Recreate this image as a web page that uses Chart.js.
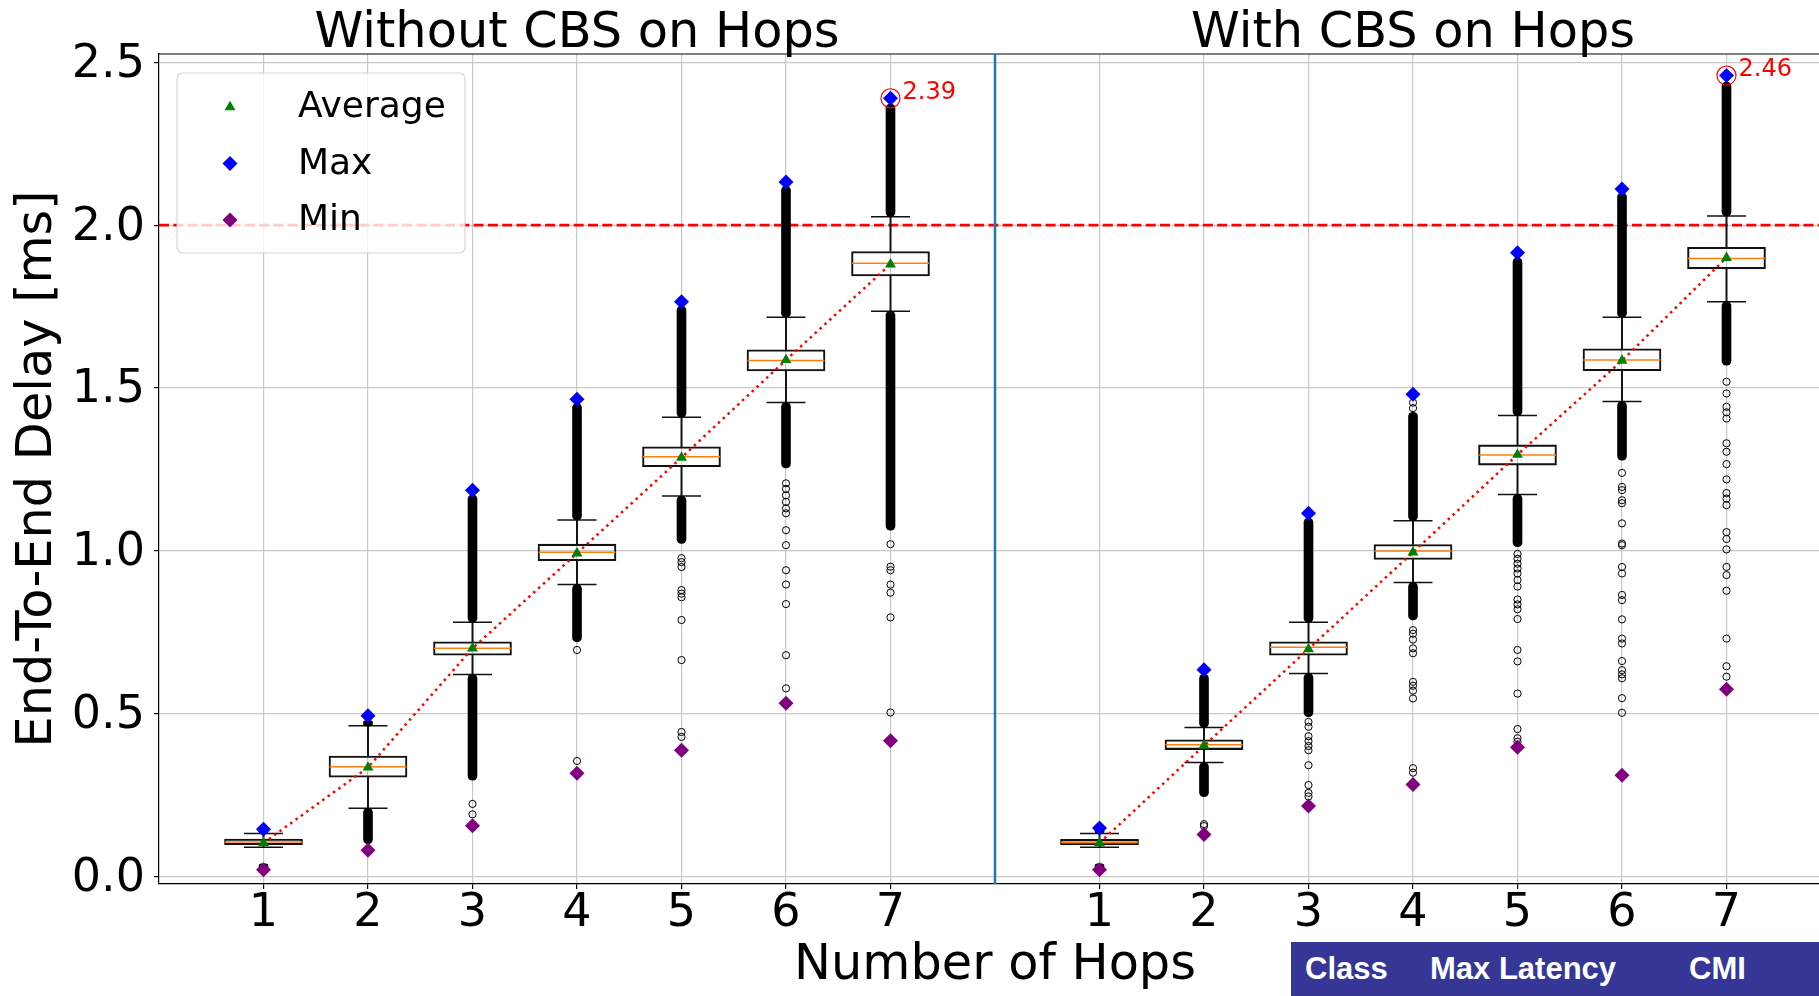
<!DOCTYPE html>
<html>
<head>
<meta charset="utf-8">
<title>End-To-End Delay per Number of Hops</title>
<script src="https://cdn.jsdelivr.net/npm/chart.js@4.4.1/dist/chart.umd.min.js"></script>
<style>
  html, body { margin: 0; padding: 0; width: 1819px; height: 996px; overflow: hidden; background: #fff; }
  #wrap { position: relative; width: 1819px; height: 996px; overflow: hidden; }
  #delayChart { position: absolute; left: 0; top: 0; }
  #classBar {
    position: absolute; left: 1291px; top: 942px; width: 528px; height: 54px;
    background: #363697; color: #fff;
    font-family: "Liberation Sans", Arial, sans-serif; font-weight: bold; font-size: 31px;
  }
  #classBar span { position: absolute; top: 11px; line-height: 31px; white-space: nowrap; }
</style>
</head>
<body>
<div id="wrap">
  <canvas id="delayChart" width="1831" height="996"></canvas>
  <div id="classBar">
    <span style="left:14px">Class</span>
    <span style="left:139px">Max Latency</span>
    <span style="left:398px">CMI</span>
  </div>
</div>
<script>
// ---------------- data ----------------
const hops = [1, 2, 3, 4, 5, 6, 7];
const hopLabels = ['1', '2', '3', '4', '5', '6', '7'];
const yTickValues = [0.0, 0.5, 1.0, 1.5, 2.0, 2.5];
const deadlineMs = 2.0;
const panelTitles = ['Without CBS on Hops', 'With CBS on Hops'];

// Without CBS on hops (delay in ms)
const noCbsQ1          = [0.097, 0.304, 0.679, 0.969, 1.258, 1.552, 1.844];
const noCbsMedian      = [0.105, 0.336, 0.700, 0.995, 1.289, 1.584, 1.883];
const noCbsQ3          = [0.114, 0.369, 0.720, 1.020, 1.319, 1.617, 1.919];
const noCbsWhiskerLow  = [0.089, 0.209, 0.620, 0.896, 1.168, 1.455, 1.736];
const noCbsWhiskerHigh = [0.131, 0.462, 0.780, 1.094, 1.410, 1.717, 2.026];
const noCbsMean        = [0.102, 0.334, 0.700, 0.992, 1.286, 1.586, 1.880];
const noCbsMax         = [0.144, 0.493, 1.186, 1.465, 1.765, 2.133, 2.39];
const noCbsMin         = [0.020, 0.080, 0.155, 0.316, 0.387, 0.531, 0.416];
// ranges packed so tightly with outliers that they form a solid band
const noCbsDenseHigh = [[0.133, 0.142], [0.462, 0.478], [0.780, 1.172], [1.094, 1.452], [1.410, 1.752], [1.717, 2.120], [2.026, 2.372]];
const noCbsDenseLow  = [[0.022, 0.038], [0.100, 0.209], [0.295, 0.620], [0.720, 0.896], [1.022, 1.168], [1.254, 1.455], [1.063, 1.736]];
// isolated outliers
const noCbsOutliers = [
  [],
  [],
  [0.222, 0.190],
  [0.695, 0.354],
  [0.977, 0.965, 0.950, 0.879, 0.868, 0.857, 0.787, 0.664, 0.443, 0.428],
  [1.207, 1.190, 1.170, 1.150, 1.130, 1.115, 1.063, 1.017, 0.940, 0.896, 0.836, 0.679, 0.577],
  [1.020, 0.951, 0.940, 0.896, 0.871, 0.795, 0.503]
];

// With CBS on hops (delay in ms)
const cbsQ1          = [0.096, 0.389, 0.679, 0.973, 1.263, 1.553, 1.866];
const cbsMedian      = [0.1045, 0.404, 0.703, 0.999, 1.294, 1.586, 1.898];
const cbsQ3          = [0.113, 0.419, 0.720, 1.019, 1.325, 1.620, 1.932];
const cbsWhiskerLow  = [0.089, 0.349, 0.623, 0.902, 1.173, 1.458, 1.765];
const cbsWhiskerHigh = [0.131, 0.457, 0.780, 1.092, 1.415, 1.717, 2.028];
const cbsMean        = [0.102, 0.401, 0.698, 0.995, 1.295, 1.584, 1.900];
const cbsMax         = [0.148, 0.634, 1.115, 1.481, 1.915, 2.111, 2.46];
const cbsMin         = [0.020, 0.128, 0.216, 0.282, 0.396, 0.310, 0.574];
const cbsDenseHigh = [[0.133, 0.145], [0.457, 0.620], [0.780, 1.100], [1.092, 1.425], [1.415, 1.900], [1.717, 2.100], [2.028, 2.440]];
const cbsDenseLow  = [[0.022, 0.038], [0.244, 0.349], [0.490, 0.623], [0.787, 0.902], [1.012, 1.173], [1.278, 1.458], [1.570, 1.765]];
const cbsOutliers = [
  [],
  [0.160, 0.154],
  [0.474, 0.459, 0.430, 0.415, 0.400, 0.387, 0.341, 0.280, 0.256, 0.245],
  [1.438, 1.455, 0.756, 0.745, 0.727, 0.700, 0.685, 0.597, 0.585, 0.570, 0.546, 0.332, 0.318],
  [0.990, 0.975, 0.960, 0.945, 0.930, 0.910, 0.890, 0.850, 0.835, 0.820, 0.790, 0.695, 0.660, 0.561, 0.452, 0.424, 0.413],
  [1.239, 1.196, 1.186, 1.155, 1.146, 1.084, 1.022, 1.017, 0.950, 0.930, 0.864, 0.848, 0.789, 0.730, 0.715, 0.661, 0.633, 0.620, 0.608, 0.547, 0.502],
  [1.519, 1.483, 1.442, 1.425, 1.406, 1.330, 1.304, 1.266, 1.219, 1.177, 1.160, 1.140, 1.057, 1.036, 1.004, 0.950, 0.925, 0.877, 0.730, 0.645, 0.613]
];

// ---------------- chart construction ----------------
// Both panels share one linear x axis; each panel spans 0 .. hops+1.
const PANEL_SPAN = hops.length + 1;
const FONT = '"DejaVu Sans", sans-serif';
const LABEL_SIZE = 49.4;

const panels = [
  { q1: noCbsQ1, median: noCbsMedian, q3: noCbsQ3, wLo: noCbsWhiskerLow, wHi: noCbsWhiskerHigh,
    mean: noCbsMean, max: noCbsMax, min: noCbsMin, denseHigh: noCbsDenseHigh, denseLow: noCbsDenseLow, outliers: noCbsOutliers },
  { q1: cbsQ1, median: cbsMedian, q3: cbsQ3, wLo: cbsWhiskerLow, wHi: cbsWhiskerHigh,
    mean: cbsMean, max: cbsMax, min: cbsMin, denseHigh: cbsDenseHigh, denseLow: cbsDenseLow, outliers: cbsOutliers }
];

function pointStyleSet(style, radius, fill, stroke, width) {
  return {
    pointStyle: style, pointRadius: radius, pointHoverRadius: radius, pointHitRadius: 0,
    pointBackgroundColor: fill, pointBorderColor: stroke, pointBorderWidth: width,
    pointHoverBackgroundColor: fill, pointHoverBorderColor: stroke, pointHoverBorderWidth: width
  };
}

function panelDatasets(s, p) {
  const at = i => hops[i] + p * PANEL_SPAN;
  const points = arr => arr.map((v, i) => ({ x: at(i), y: v }));
  const spans = (lo, hi) => lo.map((v, i) => ({ x: at(i), y: [v, hi[i]] }));
  const bands = s.denseHigh.concat(s.denseLow).map((r, k) => ({ x: at(k % hops.length), y: [r[0], r[1]] }));
  const loose = [];
  s.outliers.forEach((vals, i) => vals.forEach(v => loose.push({ x: at(i), y: v })));
  const last = hops.length - 1;

  return [
    { type: 'bar', data: spans(s.q1, s.q3), grouped: false, barThickness: 78,
      backgroundColor: 'rgba(0,0,0,0)', borderColor: '#111', borderWidth: 1.4, borderSkipped: false, order: 15 },
    { type: 'bar', data: spans(s.q3, s.wHi), grouped: false, barThickness: 1.3,
      backgroundColor: '#111', borderWidth: 0, order: 14 },
    { type: 'bar', data: spans(s.wLo, s.q1), grouped: false, barThickness: 1.3,
      backgroundColor: '#111', borderWidth: 0, order: 14 },
    { type: 'scatter', data: points(s.wHi).concat(points(s.wLo)), order: 13,
      ...pointStyleSet('line', 19.5, '#111', '#111', 1.5) },
    { type: 'bar', data: bands, grouped: false, barThickness: 9, borderRadius: 4.5,
      backgroundColor: '#000', borderWidth: 0, borderSkipped: false, order: 12 },
    { type: 'scatter', data: loose, order: 11,
      ...pointStyleSet('circle', 3.6, 'rgba(0,0,0,0)', '#000', 1) },
    { type: 'scatter', data: points(s.median), order: 10,
      ...pointStyleSet('line', 38.5, '#ff7f0e', '#ff7f0e', 1.5) },
    { type: 'line', data: points(s.mean), order: 9, borderColor: '#ff0000', borderWidth: 2.5,
      borderDash: [2.5, 4.1], pointRadius: 0, pointHoverRadius: 0, fill: false, tension: 0 },
    { type: 'scatter', label: 'Average', data: points(s.mean), order: 8,
      ...pointStyleSet('triangle', 6.3, '#008000', '#008000', 0) },
    { type: 'scatter', label: 'Max', data: points(s.max), order: 7,
      ...pointStyleSet('rectRot', 7.5, '#0000ff', '#0000ff', 0) },
    { type: 'scatter', label: 'Min', data: points(s.min), order: 7,
      ...pointStyleSet('rectRot', 7.5, '#800080', '#800080', 0) },
    { type: 'scatter', callout: true, data: [{ x: at(last), y: s.max[last] }], order: 6,
      ...pointStyleSet('circle', 9.5, 'rgba(0,0,0,0)', '#ff0000', 1.2) }
  ];
}

const datasets = [
  { type: 'line', data: [{ x: 0, y: deadlineMs }, { x: 2 * PANEL_SPAN, y: deadlineMs }], order: 20,
    borderColor: '#ff0000', borderWidth: 2.7, borderDash: [10, 4.3], pointRadius: 0, pointHoverRadius: 0, fill: false }
].concat(panelDatasets(panels[0], 0), panelDatasets(panels[1], 1));

// frame, panel divider and panel titles
const panelFrame = {
  id: 'panelFrame',
  afterDatasetsDraw(chart) {
    const { ctx, chartArea: a, scales: { x } } = chart;
    ctx.save();
    ctx.strokeStyle = '#000';
    ctx.lineWidth = 1.2;
    ctx.beginPath(); ctx.moveTo(a.left, a.top); ctx.lineTo(a.right, a.top); ctx.stroke();
    const xd = x.getPixelForValue(PANEL_SPAN);
    ctx.strokeStyle = '#1f77b4';
    ctx.lineWidth = 2.5;
    ctx.beginPath(); ctx.moveTo(xd, a.top); ctx.lineTo(xd, a.bottom); ctx.stroke();
    ctx.fillStyle = '#000';
    ctx.font = LABEL_SIZE + 'px ' + FONT;
    ctx.textAlign = 'center';
    ctx.textBaseline = 'alphabetic';
    panelTitles.forEach((t, i) => ctx.fillText(t, x.getPixelForValue(i * PANEL_SPAN + PANEL_SPAN / 2), a.top - 7.5));
    ctx.restore();
  }
};

// value label next to the circled worst-case delay
const maxCallout = {
  id: 'maxCallout',
  afterDatasetsDraw(chart) {
    const { ctx } = chart;
    chart.data.datasets.forEach((ds, i) => {
      if (!ds.callout) return;
      const el = chart.getDatasetMeta(i).data[0];
      ctx.save();
      ctx.fillStyle = '#ff0000';
      ctx.font = '24px ' + FONT;
      ctx.textAlign = 'left';
      ctx.textBaseline = 'alphabetic';
      ctx.fillText(ds.data[0].y.toFixed(2), el.x + 12, el.y + 1);
      ctx.restore();
    });
  }
};

// legend box drawn inside the left panel
const markerLegend = {
  id: 'markerLegend',
  afterDraw(chart) {
    const { ctx, chartArea: a } = chart;
    const seen = new Set();
    const items = chart.data.datasets.filter(ds => ds.label && !seen.has(ds.label) && seen.add(ds.label));
    const fs = 36;
    const left = a.left + 18, top = a.top + 19;
    const rowStep = fs * 1.57;
    const w = 288, h = 180;
    ctx.save();
    ctx.beginPath();
    ctx.roundRect(left, top, w, h, 6);
    ctx.fillStyle = 'rgba(255,255,255,0.8)';
    ctx.fill();
    ctx.strokeStyle = 'rgba(204,204,204,0.8)';
    ctx.lineWidth = 1.2;
    ctx.stroke();
    items.forEach((ds, k) => {
      const cy = top + 34 + k * rowStep;
      const mx = left + 53;
      ctx.fillStyle = ds.pointBackgroundColor;
      ctx.strokeStyle = ds.pointBorderColor;
      Chart.helpers.drawPoint(ctx, { pointStyle: ds.pointStyle, radius: ds.pointRadius, rotation: 0, borderWidth: 0 }, mx, cy);
      ctx.fillStyle = '#000';
      ctx.font = fs + 'px ' + FONT;
      ctx.textAlign = 'left';
      ctx.textBaseline = 'alphabetic';
      ctx.fillText(ds.label, left + 121, cy + 10);
    });
    ctx.restore();
  }
};

Chart.defaults.font.family = FONT;

new Chart(document.getElementById('delayChart'), {
  type: 'scatter',
  data: { datasets },
  options: {
    responsive: false,
    animation: false,
    devicePixelRatio: 1,
    events: [],
    layout: { autoPadding: false, padding: { top: 54, left: 0, right: 0, bottom: 0 } },
    plugins: { legend: { display: false }, tooltip: { enabled: false }, title: { display: false } },
    scales: {
      x: {
        type: 'linear', min: 0, max: 2 * PANEL_SPAN, offset: false,
        grid: { offset: false, color: '#c8c8c8', lineWidth: 1.2, drawTicks: true, tickLength: 5, tickColor: '#000', tickWidth: 1.2 },
        border: { color: '#000', width: 1.2 },
        ticks: {
          color: '#000', font: { size: 46 }, padding: -3, maxRotation: 0, autoSkip: false,
          callback: v => hopLabels[hops.indexOf(v % PANEL_SPAN)]
        },
        afterBuildTicks: scale => {
          scale.ticks = [0, 1].flatMap(p => hops.map(h => ({ value: h + p * PANEL_SPAN })));
        },
        afterFit: scale => { scale.height = 112; },
        title: { display: true, text: 'Number of Hops', color: '#000', font: { size: LABEL_SIZE }, padding: { top: 0, bottom: 0 } }
      },
      y: {
        type: 'linear', min: -0.024, max: 2.526,
        grid: { color: '#c8c8c8', lineWidth: 1.2, drawTicks: true, tickLength: 5, tickColor: '#000', tickWidth: 1.2 },
        border: { color: '#000', width: 1.2 },
        ticks: { color: '#000', font: { size: 46 }, padding: 9, labelOffset: 2.5, callback: v => v.toFixed(1) },
        afterBuildTicks: scale => { scale.ticks = yTickValues.map(v => ({ value: v })); },
        afterFit: scale => { scale.width = 159; },
        title: { display: true, text: 'End-To-End Delay [ms]', color: '#000', font: { size: LABEL_SIZE }, padding: { top: 8.3, bottom: 0 } }
      }
    }
  },
  plugins: [panelFrame, maxCallout, markerLegend]
});
</script>
</body>
</html>
